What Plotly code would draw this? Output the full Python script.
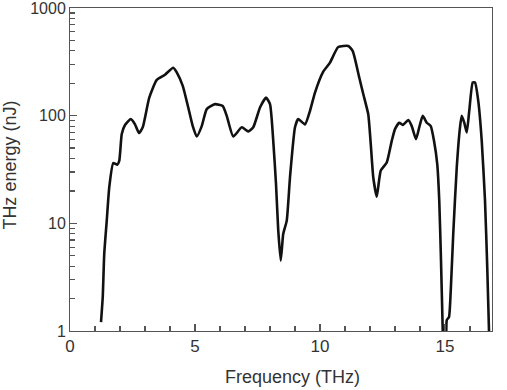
import plotly.graph_objects as go

freq = [1.24, 1.31, 1.37, 1.47, 1.57, 1.73, 1.89, 1.97, 2.07, 2.2, 2.43, 2.6, 2.76, 2.91,
        3.17, 3.47, 3.8, 4.13, 4.27, 4.51, 4.73, 4.91, 5.07, 5.27, 5.47, 5.8, 6.11, 6.27,
        6.53, 6.87, 7.13, 7.33, 7.6, 7.84, 8.0, 8.13, 8.24, 8.33, 8.43, 8.53, 8.67, 8.8,
        9.0, 9.13, 9.4, 9.6, 9.8, 10.13, 10.4, 10.73, 11.13, 11.31, 11.57, 11.73, 11.93,
        12.03, 12.13, 12.27, 12.43, 12.67, 12.87, 13.0, 13.17, 13.31, 13.53, 13.67, 13.84,
        13.97, 14.11, 14.27, 14.43, 14.56, 14.69, 14.77, 14.84, 14.91, 14.95, 15.02, 15.07,
        15.16, 15.23, 15.33, 15.47, 15.6, 15.67, 15.77, 15.87, 15.97, 16.11, 16.2, 16.33,
        16.47, 16.6, 16.69, 16.76, 16.8]
energy = [1.21, 2.07, 5.2, 10.6, 21.6, 36.3, 35, 38, 67.5, 82, 93, 83, 69, 78,
          147, 215, 240, 279, 252, 189, 119, 80, 64, 80, 115, 128, 123, 99.5,
          64, 78, 71.5, 78, 119, 147, 128, 58.4, 23.2, 8.6, 4.5, 8.0, 10.6, 26.8,
          78, 93, 83, 111, 164, 256, 311, 434, 444, 398, 226, 159, 103,
          54.6, 26.8, 17.7, 30.9, 36.7, 58.4, 75, 86, 82, 91, 80, 60.5,
          78, 99.5, 86, 80, 58.4, 35.5, 16.3, 4.5, 1.0, 0.5, 0.5, 1.26,
          1.35, 2.38, 8, 33, 78, 99.5, 86, 70, 111, 203, 203, 137,
          58, 16.3, 3.9, 1.0, 0.5]

x_title = "Frequency (THz)"
y_title = "THz energy (nJ)"

axis_col = "#555555"
tick_col = "#555555"
text_col = "#333333"
font_family = "Liberation Sans, Arial, sans-serif"

fig = go.Figure()
fig.add_trace(go.Scatter(
    x=freq, y=energy, mode="lines",
    line=dict(color="#111111", width=2.6, shape="spline", smoothing=0.5),
    showlegend=False, hoverinfo="skip"))

fig.update_layout(
    width=507, height=390,
    margin=dict(l=70, r=15, t=8, b=59, autoexpand=False),
    paper_bgcolor="white", plot_bgcolor="white",
    font=dict(family=font_family, size=16, color=text_col),
    xaxis=dict(
        range=[0, 16.88], showgrid=False, zeroline=False, automargin=False,
        showline=True, linecolor=axis_col, linewidth=1, mirror=True,
        tickmode="linear", tick0=0, dtick=5,
        ticks="inside", ticklen=7, tickcolor=tick_col, tickwidth=1.2,
        minor=dict(tickmode="linear", tick0=0, dtick=1, ticks="inside", ticklen=5,
                   tickcolor=tick_col, tickwidth=1.2, showgrid=False),
        tickfont=dict(size=17, color=text_col),
        ticklabeloverflow="allow",
    ),
    yaxis=dict(
        type="log", range=[0, 3], showgrid=False, zeroline=False, automargin=False,
        showline=True, linecolor=axis_col, linewidth=1, mirror=True,
        tickmode="linear", tick0=0, dtick=1,
        ticks="inside", ticklen=7, tickcolor=tick_col, tickwidth=1.2,
        minor=dict(dtick="D1", ticks="inside", ticklen=5, tickcolor=tick_col,
                   tickwidth=1.2, showgrid=False),
        tickfont=dict(size=16, color=text_col),
        ticklabeloverflow="allow",
    ),
    annotations=[
        dict(text=x_title, xref="x", yref="paper", x=8.88, y=0,
             xanchor="center", yanchor="top", yshift=-34, showarrow=False,
             font=dict(size=18, color=text_col, family=font_family)),
        dict(text=y_title, xref="paper", yref="y", x=0, y=1.536,
             xanchor="center", yanchor="middle", xshift=-60, textangle=-90,
             showarrow=False,
             font=dict(size=18, color=text_col, family=font_family)),
    ],
)

fig.write_html("out.html", config={"displayModeBar": False, "staticPlot": True},
               post_script="document.body.style.margin='0px';")
